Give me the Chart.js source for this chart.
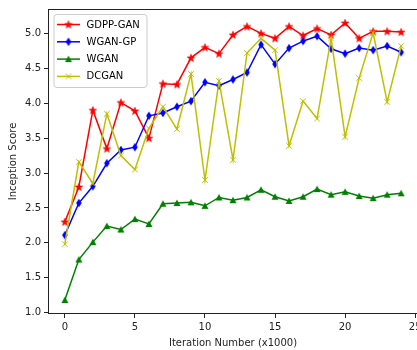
<!DOCTYPE html>
<html>
<head>
<meta charset="utf-8">
<script src="https://cdn.jsdelivr.net/npm/chart.js@4"></script>
<style>
  html, body { margin: 0; padding: 0; background: #fff; overflow: hidden; }
  #wrap { width: 432px; height: 350px; }
</style>
</head>
<body>
<div id="wrap"><canvas id="chart" width="432" height="350"></canvas></div>
<script>
// iteration number (x1000)
const iterations = [0, 1, 2, 3, 4, 5, 6, 7, 8, 9, 10, 11, 12, 13, 14, 15, 16, 17, 18, 19, 20, 21, 22, 23, 24];

const gdppGan = [2.30, 2.80, 3.90, 3.35, 4.01, 3.89, 3.50, 4.28, 4.27, 4.65, 4.80, 4.71, 4.98,
                 5.10, 5.00, 4.93, 5.10, 4.97, 5.07, 4.98, 5.15, 4.93, 5.03, 5.03, 5.02];
const wganGp = [2.11, 2.57, 2.81, 3.14, 3.33, 3.37, 3.82, 3.86, 3.95, 4.03, 4.30, 4.25, 4.34,
                4.44, 4.84, 4.56, 4.79, 4.89, 4.96, 4.78, 4.71, 4.79, 4.76, 4.82, 4.73];
const wgan = [1.18, 1.76, 2.01, 2.24, 2.19, 2.34, 2.27, 2.56, 2.57, 2.58, 2.53, 2.65, 2.61,
              2.65, 2.76, 2.66, 2.60, 2.66, 2.77, 2.69, 2.73, 2.67, 2.64, 2.69, 2.71];
const dcgan = [1.98, 3.16, 2.85, 3.85, 3.25, 3.05, 3.64, 3.95, 3.63, 4.42, 2.90, 4.32, 3.19,
               4.72, 4.93, 4.76, 3.39, 4.03, 3.78, 4.93, 3.52, 4.36, 5.01, 4.02, 4.82];

const xTicks = [0, 5, 10, 15, 20, 25];
const yTicks = [1.0, 1.5, 2.0, 2.5, 3.0, 3.5, 4.0, 4.5, 5.0];

const FONT = "'DejaVu Sans', sans-serif";

function marker(draw) {
  const c = document.createElement('canvas');
  c.width = 12; c.height = 12;
  const g = c.getContext('2d');
  draw(g);
  return c;
}

function star(color) {
  return marker(g => {
    g.beginPath();
    for (let k = 0; k < 10; k++) {
      const r = k % 2 ? 1.7 : 4;
      const a = -Math.PI / 2 + k * Math.PI / 5;
      g.lineTo(6 + r * Math.cos(a), 6.3 + r * Math.sin(a));
    }
    g.closePath();
    g.fillStyle = color; g.fill();
    g.strokeStyle = color; g.lineWidth = 0.6; g.stroke();
  });
}

function thinDiamond(color) {
  return marker(g => {
    g.beginPath();
    g.moveTo(6, 1.8); g.lineTo(8.8, 6); g.lineTo(6, 10.2); g.lineTo(3.2, 6);
    g.closePath();
    g.fillStyle = color; g.fill();
  });
}

function triangle(color) {
  return marker(g => {
    g.beginPath();
    g.moveTo(6, 2.6); g.lineTo(9.5, 9); g.lineTo(2.5, 9);
    g.closePath();
    g.fillStyle = color; g.fill();
  });
}

function cross(color) {
  return marker(g => {
    g.beginPath();
    g.moveTo(3.2, 3.2); g.lineTo(8.8, 8.8);
    g.moveTo(8.8, 3.2); g.lineTo(3.2, 8.8);
    g.strokeStyle = color; g.lineWidth = 1; g.stroke();
  });
}

const series = [
  { label: 'GDPP-GAN', values: gdppGan, color: '#ff0000', point: star('#ff0000'), order: 3 },
  { label: 'WGAN-GP', values: wganGp, color: '#0000ff', point: thinDiamond('#0000ff'), order: 2 },
  { label: 'WGAN', values: wgan, color: '#008000', point: triangle('#008000'), order: 1 },
  { label: 'DCGAN', values: dcgan, color: '#bfbf00', point: cross('#bfbf00'), order: 0 }
];

const frame = {
  id: 'frame',
  afterDatasetsDraw(chart) {
    const { ctx, chartArea: a } = chart;
    ctx.save();
    ctx.strokeStyle = '#222';
    ctx.lineWidth = 1;
    ctx.strokeRect(Math.round(a.left) + 0.5, Math.round(a.top) + 0.5,
      Math.round(a.right - a.left) - 1, Math.round(a.bottom - a.top) - 1);

    // legend, upper left
    const bx = a.left + 5.5, by = a.top + 5, bw = 93, bh = 73;
    ctx.beginPath();
    ctx.roundRect(bx + 0.5, by + 0.5, bw, bh, 3);
    ctx.fillStyle = 'rgba(255,255,255,0.8)';
    ctx.fill();
    ctx.strokeStyle = '#cccccc';
    ctx.stroke();
    ctx.font = '10px ' + FONT;
    ctx.textBaseline = 'middle';
    series.forEach((s, i) => {
      const y = by + 10.5 + i * 17.3;
      ctx.beginPath();
      ctx.moveTo(bx + 3.5, y); ctx.lineTo(bx + 26.5, y);
      ctx.strokeStyle = s.color; ctx.lineWidth = 1.5; ctx.stroke();
      ctx.drawImage(s.point, bx + 15 - 6, y - 6);
      ctx.fillStyle = '#000';
      ctx.fillText(s.label, bx + 33, y + 0.5);
    });
    ctx.restore();
  }
};

new Chart(document.getElementById('chart'), {
  type: 'line',
  data: {
    datasets: series.map(s => ({
      label: s.label,
      data: iterations.map((x, i) => ({ x: x, y: s.values[i] })),
      borderColor: s.color,
      backgroundColor: s.color,
      borderWidth: 1.5,
      pointStyle: s.point,
      pointRadius: 3,
      tension: 0,
      order: s.order
    }))
  },
  options: {
    responsive: false,
    animation: false,
    layout: { padding: { top: 5, right: 14, left: 0, bottom: 0 } },
    plugins: { legend: { display: false }, tooltip: { enabled: false } },
    scales: {
      x: {
        type: 'linear',
        min: -1.2,
        max: 25.2,
        afterBuildTicks: sc => { sc.ticks = xTicks.map(v => ({ value: v })); },
        afterFit: sc => { sc.height = 36; },
        border: { display: false },
        grid: { drawOnChartArea: false, drawTicks: true, tickLength: 4, color: '#222' },
        ticks: { color: '#222', font: { family: FONT, size: 10 }, padding: 3, maxRotation: 0,
                 callback: v => String(v) },
        title: { display: true, text: 'Iteration Number (x1000)', color: '#222',
                 font: { family: FONT, size: 10 }, padding: { top: 0, bottom: 1 } }
      },
      y: {
        min: 0.98,
        max: 5.35,
        afterBuildTicks: sc => { sc.ticks = yTicks.map(v => ({ value: v })); },
        afterFit: sc => { sc.width = 48; },
        border: { display: false },
        grid: { drawOnChartArea: false, drawTicks: true, tickLength: 4, color: '#222' },
        ticks: { color: '#222', font: { family: FONT, size: 10 }, padding: 3,
                 callback: v => v.toFixed(1) },
        title: { display: true, text: 'Inception Score', color: '#222',
                 font: { family: FONT, size: 10 }, padding: { top: 7, bottom: 0 } }
      }
    }
  },
  plugins: [frame]
});
</script>
</body>
</html>
